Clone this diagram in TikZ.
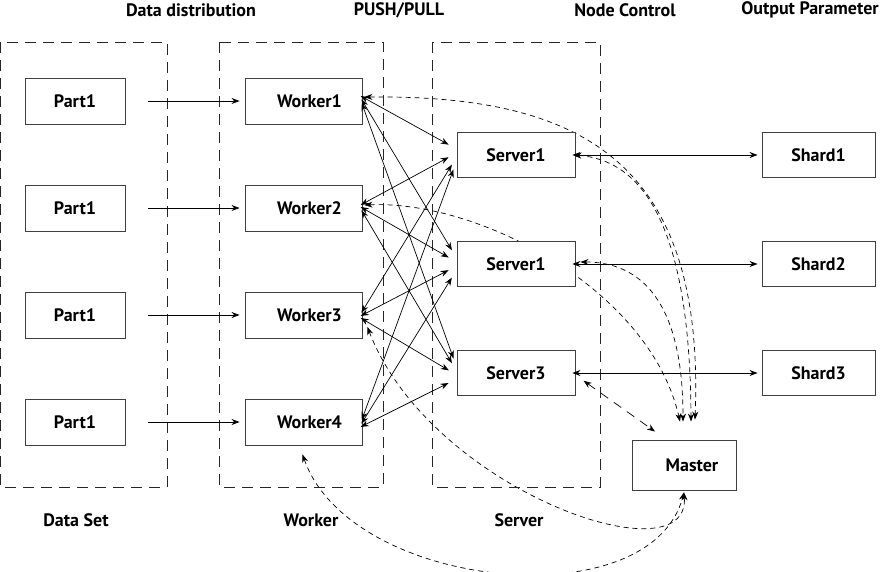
\documentclass[tikz,border=0pt]{standalone}
\usepackage{fontspec}
\setmainfont{PT Sans}
\usetikzlibrary{arrows.meta,backgrounds}
\begin{document}
\begin{tikzpicture}[x=1pt,y=-1pt,
  box/.style={draw=black!75, line width=0.9pt, fill=white, minimum height=46pt, font=\fontsize{18}{21}\selectfont\bfseries, inner sep=0pt},
  grp/.style={draw=black!85, line width=0.8pt, dash pattern=on 11pt off 7pt},
  lbl/.style={font=\fontsize{18}{21}\selectfont\bfseries, inner sep=0pt},
  tip/.tip={Stealth[length=8pt,width=6pt]},
  arr/.style={line width=0.7pt, -tip},
  conn/.style={line width=0.7pt, tip-tip},
  dcurve/.style={line width=0.7pt, tip-tip, dash pattern=on 5pt off 4pt},
  dline/.style={line width=0.7pt, tip-tip, dash pattern=on 9pt off 7pt}
]
\useasboundingbox (0,0) rectangle (884,572);

% groups
\draw[grp] (0,42) rectangle (167,487);
\draw[grp] (219,42) rectangle (383,487);
\draw[grp] (432,42) rectangle (600,487);

% titles
\node[lbl] (t1) at (191,10) {Data distribution};
\node[lbl] (t2) at (399,10) {PUSH/PULL};
\node[lbl] (t3) at (625,10) {Node Control};
\node[lbl] (t4) at (810,10) {Output Parameter};
\node[lbl] (b1) at (76,520) {Data Set};
\node[lbl] (b2) at (311,520) {Worker};
\node[lbl] (b3) at (519,520) {Server};

% parts
\foreach \i/\y in {1/101,2/208,3/315,4/422}{
  \node[box, minimum width=100pt] (p\i) at (75,\y) {Part1};
}
% workers
\foreach \i/\y in {1/101,2/208,3/315,4/422}{
  \node[box, minimum width=117pt] (w\i) at (303.5,\y) {\hspace*{12pt}Worker\i};
}
% servers
\node[box, minimum width=118pt, minimum height=45pt] (s1) at (516,155) {Server1};
\node[box, minimum width=118pt, minimum height=45pt] (s2) at (516,264) {Server1};
\node[box, minimum width=118pt, minimum height=45pt] (s3) at (516,373) {Server3};
% shards
\foreach \i/\y in {1/155,2/264,3/373}{
  \node[box, minimum width=113pt, minimum height=45pt] (sh\i) at (818.5,\y) {Shard\i};
}
% master
\node[box, minimum width=104pt, minimum height=50pt] (m) at (684,465) {\hspace*{16pt}Master};

% master attachment points
\coordinate (mt1) at ([xshift=11pt,yshift=20pt]m.north);
\coordinate (mt2) at ([xshift=7pt,yshift=18pt]m.north);
\coordinate (mt3) at ([xshift=-1pt,yshift=18pt]m.north);
\coordinate (mt4) at ([xshift=-4pt,yshift=18pt]m.north);
\coordinate (mt5) at ([xshift=-29pt,yshift=8pt]m.north);
\coordinate (mb) at ([yshift=-2pt]m.south);

% part -> worker
\foreach \i in {1,...,4}{
  \draw[arr] ([xshift=23pt]p\i.east) -- ([xshift=-5pt]w\i.west);
}

% worker <-> server
\foreach \w in {1,...,4}{
  \foreach \s in {1,2,3}{
    \draw[conn, shorten <=-2pt, shorten >=9pt]
      ([yshift={-(\s-2)*4pt}]w\w.east) -- ([yshift={-(\w-2.5)*4pt}]s\s.west);
  }
}

% server <-> shard
\foreach \i in {1,2,3}{
  \draw[conn, shorten <=-3pt, shorten >=4pt] (s\i.east) -- (sh\i.west);
}

% dashed control curves
\begin{scope}[on background layer]
\draw[dcurve] ([xshift=2pt,yshift=4pt]w1.east) .. controls (580,95) and (705,160) .. (mt1);
\draw[dcurve] ([xshift=-2pt]s1.east) .. controls (640,160) and (690,220) .. (mt2);
\draw[dcurve] ([xshift=5pt,yshift=2pt]s2.east) .. controls (640,262) and (683,300) .. (mt3);
\draw[dcurve] ([xshift=2pt,yshift=3pt]w2.east) .. controls (480,200) and (650,290) .. (mt4);
\draw[dline, shorten <=10pt] ([yshift=-2pt]s3.east) -- (mt5);
\draw[dcurve] ([xshift=5pt,yshift=-12pt]w3.east) .. controls (430,490) and (690,580) .. (mb);
\draw[dcurve] ([xshift=-1pt,yshift=-9pt]w4.south) .. controls (350,590) and (650,620) .. (mb);
\end{scope}
\end{tikzpicture}
\end{document}
